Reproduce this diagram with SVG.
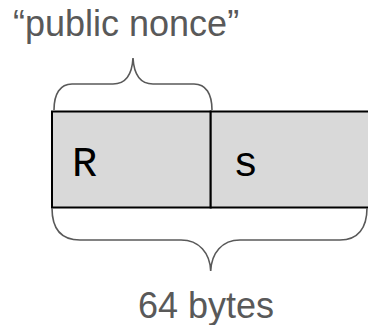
<svg xmlns="http://www.w3.org/2000/svg" width="368" height="325" viewBox="0 0 368 325">
<style>
.lbl{font-family:"Liberation Sans",Arial,sans-serif;font-size:36px;fill:#595959}
.mono{font-family:"Liberation Mono","Courier New",monospace;font-size:42px;fill:#000}
.cell{fill:#d9d9d9;stroke:#000;stroke-width:2}
.brace{fill:none;stroke:#595959;stroke-width:1.6}
</style>
<rect width="368" height="325" fill="#fff"/>
<g id="node-R">
<rect class="cell" x="52" y="111.5" width="158.7" height="96"/>
<text class="mono" x="72" y="176">R</text>
</g>
<g id="node-s">
<rect class="cell" x="210.7" y="111.5" width="170" height="96"/>
<text class="mono" x="233" y="176">s</text>
</g>
<g id="connectors">
<path class="brace" d="M54,110 C54,94 60,84 72,84 L113,84 C125,84 132,75 133,58 C134,75 141,84 153,84 L194,84 C206,84 212,94 212,110"/>
<path class="brace" d="M52,208 C52,228 60,240 80,240 L181,240 C199,240 210,253 210.7,271 C211.5,253 222,240 240,240 L340,240 C358,240 367,228 367,208"/>
</g>
<g id="label-nonce"><text class="lbl" x="13" y="36">“public nonce”</text></g>
<g id="label-bytes"><text class="lbl" x="138" y="318">64 bytes</text></g>
</svg>
